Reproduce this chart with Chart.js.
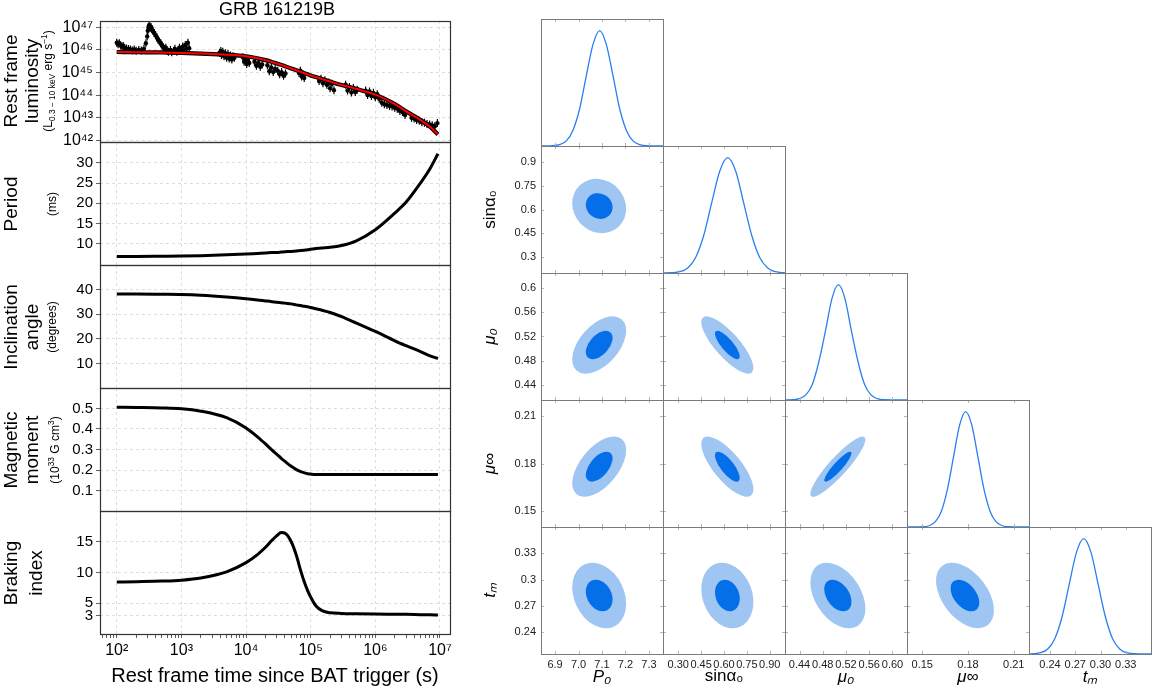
<!DOCTYPE html>
<html>
<head>
<meta charset="utf-8">
<script src="https://cdn.jsdelivr.net/npm/chart.js@4.4.1/dist/chart.umd.min.js"></script>
<style>
  body { margin: 0; background: #fff; width: 1153px; height: 688px; overflow: hidden; position: relative; font-family: "Liberation Sans", Arial, sans-serif; }
  canvas { position: absolute; }
  .lab { position: absolute; white-space: nowrap; color: #000; line-height: 1; transform: translate(-50%, -50%) rotate(-90deg); }
  .lab sub, .lab sup { font-size: 70%; }
</style>
</head>
<body>
<script>
// ---- left column: GRB 161219B light curve and derived magnetar quantities ----
const modelTime = [1e2, 2e2, 5e2, 1e3, 2e3, 5e3, 1e4, 1.5e4, 2e4, 2.5e4, 3e4, 3.5e4, 4e4, 5e4, 6e4, 7e4, 8e4, 9e4, 1e5, 1.2e5, 1.5e5, 2e5, 3e5, 5e5, 1e6, 2e6, 3e6, 5e6, 7e6, 9.3e6];
const lumModelLog = [45.91, 45.90, 45.89, 45.87, 45.84, 45.79, 45.72, 45.63, 45.55, 45.47, 45.40, 45.34, 45.28, 45.18, 45.10, 45.03, 44.97, 44.92, 44.87, 44.80, 44.71, 44.60, 44.45, 44.28, 44.02, 43.60, 43.28, 42.90, 42.60, 42.26];
const periodMs = [6.9, 6.9, 6.95, 7.0, 7.1, 7.3, 7.5, 7.65, 7.75, 7.85, 7.9, 7.98, 8.05, 8.15, 8.25, 8.35, 8.45, 8.55, 8.7, 8.85, 9.0, 9.15, 9.6, 10.7, 13.5, 17.6, 20.3, 25.0, 28.5, 32.2];
const inclinationDeg = [38.2, 38.2, 38.1, 38.0, 37.7, 37.0, 36.3, 35.8, 35.4, 35.1, 34.9, 34.7, 34.5, 34.2, 33.8, 33.5, 33.2, 33.0, 32.7, 32.2, 31.6, 30.7, 29.0, 26.5, 23.0, 19.2, 17.2, 14.8, 13.1, 12.0];
const magMoment = [0.506, 0.505, 0.503, 0.499, 0.487, 0.455, 0.405, 0.362, 0.327, 0.298, 0.276, 0.257, 0.242, 0.218, 0.202, 0.192, 0.186, 0.182, 0.180, 0.178, 0.178, 0.178, 0.178, 0.178, 0.178, 0.178, 0.178, 0.178, 0.178, 0.178];
const brakingIndex = [8.44, 8.5, 8.6, 8.75, 9.1, 10.1, 11.6, 12.9, 14.1, 15.2, 16.0, 16.5, 16.4, 15.0, 12.8, 10.3, 8.4, 7.0, 6.0, 4.6, 3.8, 3.45, 3.35, 3.3, 3.25, 3.22, 3.2, 3.15, 3.12, 3.1];

// observed XRT points, log10 of time (s) and luminosity (erg/s)
const obsLogTime = [2.00, 2.02, 2.04, 2.06, 2.08, 2.10, 2.12, 2.15, 2.18, 2.21, 2.24, 2.27, 2.30, 2.34, 2.38, 2.42, 2.45,
  2.47, 2.48, 2.49, 2.50, 2.51, 2.52, 2.53, 2.54, 2.56, 2.58, 2.60, 2.62, 2.64, 2.66, 2.68, 2.70, 2.72, 2.74, 2.76,
  2.78, 2.80, 2.83, 2.85, 2.88, 2.90, 2.93, 2.95, 2.97, 3.00, 3.02, 3.04, 3.06, 3.08, 3.10, 3.12,
  3.59, 3.61, 3.62, 3.64, 3.66, 3.68, 3.70, 3.72, 3.74, 3.76, 3.78, 3.80, 3.82,
  3.95, 3.97, 3.99, 4.01, 4.03, 4.05, 4.13, 4.16, 4.19, 4.22, 4.25,
  4.33, 4.36, 4.39, 4.42, 4.45, 4.49, 4.52, 4.55, 4.58, 4.61,
  4.82, 4.84, 4.86, 4.88, 4.90, 5.13, 5.16, 5.19, 5.22, 5.25, 5.28, 5.30, 5.33, 5.36,
  5.54, 5.57, 5.60, 5.63, 5.66, 5.69, 5.72, 5.85, 5.88, 5.91, 5.94, 5.97, 6.00, 6.03, 6.06,
  6.10, 6.14, 6.18, 6.22, 6.26, 6.30, 6.34, 6.38, 6.42, 6.46,
  6.56, 6.60, 6.64, 6.68, 6.72, 6.76, 6.80, 6.84, 6.88, 6.92, 6.96];
const obsLogLum = [46.32, 46.25, 46.30, 46.20, 46.15, 46.18, 46.10, 46.06, 46.04, 46.02, 45.98, 46.02, 45.97, 46.00, 45.98, 46.05, 46.30,
  46.60, 46.85, 47.00, 47.10, 47.05, 46.98, 47.02, 46.92, 46.85, 46.75, 46.65, 46.55, 46.45, 46.38, 46.30, 46.20, 46.12, 46.05, 46.10,
  45.95, 45.92, 46.00, 45.90, 45.96, 46.05, 45.92, 46.00, 46.10, 45.95, 46.15, 45.98, 46.22, 46.05, 46.32, 46.08,
  45.88, 45.95, 45.78, 45.92, 45.72, 45.86, 45.66, 45.82, 45.62, 45.76, 45.58, 45.72, 45.65,
  45.68, 45.48, 45.58, 45.38, 45.52, 45.42, 45.48, 45.30, 45.42, 45.26, 45.36,
  45.32, 45.06, 45.22, 45.02, 45.16, 45.08, 44.92, 45.02, 44.86, 44.96,
  44.98, 45.08, 44.82, 44.92, 44.76, 44.62, 44.72, 44.52, 44.66, 44.46, 44.56, 44.30, 44.50, 44.22,
  44.46, 44.20, 44.36, 44.12, 44.32, 44.14, 44.24, 44.20, 44.00, 44.16, 43.96, 44.10, 43.90, 44.04, 43.84,
  43.66, 43.60, 43.56, 43.52, 43.50, 43.44, 43.40, 43.30, 43.25, 43.12,
  43.00, 42.96, 42.90, 42.86, 42.80, 42.78, 42.72, 42.70, 42.66, 42.62, 42.76];

const majorTime = [1e2, 1e3, 1e4, 1e5, 1e6, 1e7];
const majorTimeLabels = ['10²', '10³', '10⁴', '10⁵', '10⁶', '10⁷'];
const lumTicks = [1e42, 1e43, 1e44, 1e45, 1e46, 1e47];
const lumTickLabels = ['10⁴²', '10⁴³', '10⁴⁴', '10⁴⁵', '10⁴⁶', '10⁴⁷'];
const periodTicks = [10, 15, 20, 25, 30];
const inclTicks = [10, 20, 30, 40];
const magTicks = [0.1, 0.2, 0.3, 0.4, 0.5];
const brakeTicks = [3, 5, 10, 15];

// ---- right block: corner plot of the posterior ----
const paramNames = ['P₀', 'sinα₀', 'μ₀', 'μ∞', 'tₘ'];
const paramItalic = [true, false, true, true, true];
const paramMin = [6.84, 0.2, 0.415, 0.14, 0.215];
const paramMax = [7.36, 1.0, 0.625, 0.22, 0.36];
const paramTicks = [[6.9, 7.0, 7.1, 7.2, 7.3], [0.3, 0.45, 0.6, 0.75, 0.9], [0.44, 0.48, 0.52, 0.56, 0.6], [0.15, 0.18, 0.21], [0.24, 0.27, 0.3, 0.33]];
const xTickLabels = [['6.9', '7.0', '7.1', '7.2', '7.3'], ['0.30', '0.45', '0.60', '0.75', '0.90'], ['0.44', '0.48', '0.52', '0.56', '0.60'], ['0.15', '0.18', '0.21'], ['0.24', '0.27', '0.30', '0.33']];
const yTickLabels = [[], ['0.3', '0.45', '0.6', '0.75', '0.9'], ['0.44', '0.48', '0.52', '0.56', '0.6'], ['0.15', '0.18', '0.21'], ['0.24', '0.27', '0.3', '0.33']];

// 1D marginals (relative density)
const p0Grid = [6.84, 6.89, 6.919, 6.948, 6.976, 7.005, 7.033, 7.062, 7.09, 7.118, 7.147, 7.175, 7.204, 7.232, 7.261, 7.29, 7.36];
const sinGrid = [0.2, 0.257, 0.309, 0.362, 0.414, 0.467, 0.519, 0.572, 0.624, 0.677, 0.729, 0.782, 0.834, 0.887, 0.939, 0.992, 1.0];
const mu0Grid = [0.415, 0.429, 0.44, 0.451, 0.462, 0.473, 0.485, 0.496, 0.507, 0.518, 0.529, 0.541, 0.552, 0.563, 0.574, 0.585, 0.625];
const muInfGrid = [0.14, 0.1505, 0.1545, 0.1585, 0.1625, 0.1665, 0.1705, 0.1745, 0.1785, 0.1825, 0.1865, 0.1905, 0.1945, 0.1985, 0.2025, 0.2065, 0.22];
const tmGrid = [0.215, 0.2201, 0.2287, 0.2373, 0.2458, 0.2544, 0.2629, 0.2715, 0.28, 0.2886, 0.2971, 0.3057, 0.3142, 0.3228, 0.3313, 0.3399, 0.36];
const p0Dens = [0, 0.002, 0.011, 0.044, 0.135, 0.325, 0.607, 0.882, 1, 0.882, 0.607, 0.325, 0.135, 0.044, 0.011, 0.002, 0];
const sinDens = [0, 0.002, 0.011, 0.044, 0.135, 0.325, 0.607, 0.882, 1, 0.882, 0.607, 0.325, 0.135, 0.044, 0.011, 0.002, 0.001];
const mu0Dens = [0, 0.002, 0.011, 0.044, 0.135, 0.325, 0.607, 0.882, 1, 0.882, 0.607, 0.325, 0.135, 0.044, 0.011, 0.002, 0];
const muInfDens = [0, 0.002, 0.011, 0.044, 0.135, 0.325, 0.607, 0.882, 1, 0.882, 0.607, 0.325, 0.135, 0.044, 0.011, 0.002, 0];
const tmDens = [0, 0.002, 0.011, 0.044, 0.135, 0.325, 0.607, 0.882, 1, 0.882, 0.607, 0.325, 0.135, 0.044, 0.011, 0.002, 0];
const margGrid = [p0Grid, sinGrid, mu0Grid, muInfGrid, tmGrid];
const margDens = [p0Dens, sinDens, mu0Dens, muInfDens, tmDens];

// 2D contours: centre, half extents of the inner / outer region, and correlation per pair
const postMean = [7.088, 0.622, 0.506, 0.178, 0.2818];
const innerExt = [0.057, 0.081, 0.0234, 0.0094, 0.018];
const outerExt = [0.115, 0.171, 0.0474, 0.019, 0.0375];
const corrRows = [[], [-0.1], [0.5, -0.8], [0.55, -0.75, 0.9], [-0.25, -0.2, -0.4, -0.45]];

// ---------------------------------------------------------------
Chart.defaults.font.family = '"Liberation Sans", Arial, sans-serif';
Chart.defaults.color = '#000';

function makeCanvas(left, top, w, h) {
    const c = document.createElement('canvas');
    c.width = w; c.height = h;
    c.style.left = left + 'px'; c.style.top = top + 'px';
    document.body.appendChild(c);
    return c.getContext('2d');
}

function addLabel(html, x, y, size, rotate) {
    const d = document.createElement('div');
    d.className = 'lab';
    d.innerHTML = html;
    d.style.left = x + 'px';
    d.style.top = y + 'px';
    d.style.fontSize = size + 'px';
    if (!rotate) d.style.transform = 'translate(-50%, -50%)';
    document.body.appendChild(d);
}

const timeTicks = [];
for (let e = 1; e <= 7; e++) {
    for (let m = 1; m <= 9; m++) {
        const v = m * Math.pow(10, e);
        if (v >= 55 && v <= 1.43e7) timeTicks.push(v);
    }
}

const panelFrame = {
    id: 'panelFrame',
    afterDraw(chart) {
        const a = chart.chartArea, ctx = chart.ctx;
        ctx.save();
        ctx.strokeStyle = '#333';
        ctx.lineWidth = 1.2;
        ctx.strokeRect(Math.round(a.left) + 0.5, Math.round(a.top) + 0.5, Math.round(a.width), Math.round(a.height));
        ctx.restore();
    }
};

function timeAxis(isBottom) {
    return {
        type: 'logarithmic', min: 55, max: 1.43e7,
        afterBuildTicks: s => { s.ticks = timeTicks.map(v => ({ value: v })); },
        afterFit: s => { s.height = isBottom ? 54 : 0; },
        grid: {
            color: c => (c.tick && majorTime.includes(c.tick.value)) ? '#d6d6d6' : 'rgba(0,0,0,0)',
            lineWidth: 0.8, drawTicks: isBottom, tickLength: 4, tickColor: '#333'
        },
        border: { display: false, dash: [3, 3] },
        ticks: {
            display: isBottom, autoSkip: false, maxRotation: 0, padding: 3, color: '#000', font: { size: 16 },
            callback: v => { const k = majorTime.indexOf(v); return k < 0 ? '' : majorTimeLabels[k]; }
        },
        title: { display: isBottom, text: 'Rest frame time since BAT trigger (s)', color: '#000', font: { size: 20 }, padding: { top: 0, bottom: 0 } }
    };
}

function valueAxis(type, min, max, ticks, labels) {
    return {
        type: type, min: min, max: max,
        afterBuildTicks: s => { s.ticks = ticks.map(v => ({ value: v })); },
        afterFit: s => { s.width = 100; },
        grid: { color: '#d6d6d6', lineWidth: 0.8, drawTicks: true, tickLength: 4, tickColor: '#333' },
        border: { display: false, dash: [3, 3] },
        ticks: { padding: 3, color: '#000', font: { size: labels ? 16 : 15 }, autoSkip: false, callback: (v, i) => labels ? labels[i] : String(v) }
    };
}

function curve(values, color, width) {
    return {
        data: modelTime.map((t, i) => ({ x: t, y: values[i] })),
        borderColor: color, backgroundColor: color, borderWidth: width, pointRadius: 0,
        cubicInterpolationMode: 'monotone', fill: false
    };
}

const panelTop = [20, 142, 265, 388, 511];
const panelBottom = [142, 265, 388, 511, 634];

const lumModel = lumModelLog.map(v => Math.pow(10, v));
const obsPoints = obsLogTime.map((t, i) => ({ x: Math.pow(10, t), y: Math.pow(10, obsLogLum[i]) }));
const panels = [
    {
        y: valueAxis('logarithmic', 8.9e41, 2.0e47, lumTicks, lumTickLabels),
        datasets: [
            curve(lumModel, '#ff0000', 2),
            curve(lumModel, '#000000', 4.2),
            { data: obsPoints, showLine: false, pointRadius: 2.2, pointBackgroundColor: '#000', pointBorderWidth: 0 },
            { data: obsPoints, showLine: false, pointStyle: 'line', rotation: 90, pointRadius: 4, pointBorderColor: '#000', pointBorderWidth: 1.2 }
        ]
    },
    { y: valueAxis('linear', 4.8, 35.1, periodTicks), datasets: [curve(periodMs, '#000000', 3)] },
    { y: valueAxis('linear', 0, 50, inclTicks), datasets: [curve(inclinationDeg, '#000000', 3)] },
    { y: valueAxis('linear', 0, 0.6, magTicks), datasets: [curve(magMoment, '#000000', 3)] },
    { y: valueAxis('linear', 0, 20, brakeTicks), datasets: [curve(brakingIndex, '#000000', 3)] }
];

panels.forEach(function (p, i) {
    const isBottom = i === panels.length - 1;
    const pad = 12;
    const h = panelBottom[i] - panelTop[i];
    const ctx = makeCanvas(0, panelTop[i] - pad, 470, isBottom ? pad + h + 54 : h + 2 * pad);
    new Chart(ctx, {
        type: 'line',
        data: { datasets: p.datasets },
        options: {
            responsive: false, animation: false,
            layout: { padding: { top: pad, bottom: isBottom ? 0 : pad, left: 0, right: 20 } },
            plugins: { legend: { display: false }, tooltip: { enabled: false } },
            scales: { x: timeAxis(isBottom), y: p.y }
        },
        plugins: [panelFrame]
    });
});

addLabel('GRB 161219B', 277, 9, 18, false);
const yLabels = [
    [['Rest frame', 10, 19], ['luminosity', 31, 19], ['(L<sub>0.3 − 10 keV</sub> erg s<sup>−1</sup>)', 48, 12]],
    [['Period', 10, 19], ['(ms)', 52, 12]],
    [['Inclination', 10, 19], ['angle', 31, 19], ['(degrees)', 52, 12]],
    [['Magnetic', 10, 19], ['moment', 31, 19], ['(10<sup>33</sup> G cm<sup>3</sup>)', 54, 12]],
    [['Braking', 10, 19], ['index', 35, 19]]
];
yLabels.forEach(function (lines, i) {
    const yc = (panelTop[i] + panelBottom[i]) / 2;
    lines.forEach(l => addLabel(l[0], l[1], yc, l[2], true));
});

// ---------------------------------------------------------------
const colLeft = [541, 663, 785, 907, 1029];
const rowTop = [19, 146, 273, 400, 527];
const cellW = 122, cellH = 127, PAD = 12;

function cellFrame(r, c) {
    return {
        id: 'cellFrame',
        afterDraw(chart) {
            const a = chart.chartArea, ctx = chart.ctx;
            const { x, y } = chart.scales;
            ctx.save();
            ctx.strokeStyle = '#b5b5b5';
            ctx.lineWidth = 1;
            ctx.beginPath();
            paramTicks[c].forEach(v => {
                const px = Math.round(x.getPixelForValue(v)) + 0.5;
                ctx.moveTo(px, a.top); ctx.lineTo(px, a.top + 3);
                ctx.moveTo(px, a.bottom); ctx.lineTo(px, a.bottom - 3);
            });
            if (r !== c) {
                paramTicks[r].forEach(v => {
                    const py = Math.round(y.getPixelForValue(v)) + 0.5;
                    ctx.moveTo(a.left, py); ctx.lineTo(a.left + 3, py);
                    ctx.moveTo(a.right, py); ctx.lineTo(a.right - 3, py);
                });
            }
            ctx.stroke();
            ctx.strokeStyle = '#7a7a7a';
            ctx.strokeRect(Math.round(a.left) + 0.5, Math.round(a.top) + 0.5, Math.round(a.width), Math.round(a.height));
            ctx.restore();
        }
    };
}

function contourPlugin(r, c) {
    return {
        id: 'contours',
        beforeDatasetsDraw(chart) {
            const { ctx, chartArea, scales: { x, y } } = chart;
            const rho = corrRows[r][c];
            ctx.save();
            ctx.beginPath();
            ctx.rect(chartArea.left, chartArea.top, chartArea.width, chartArea.height);
            ctx.clip();
            [[outerExt, '#9fc5f3'], [innerExt, '#056ee9']].forEach(function (lvl) {
                const ext = lvl[0];
                const cx = x.getPixelForValue(postMean[c]);
                const cy = y.getPixelForValue(postMean[r]);
                const a = Math.abs(x.getPixelForValue(postMean[c] + ext[c]) - cx);
                const b = Math.abs(y.getPixelForValue(postMean[r] + ext[r]) - cy);
                const cov = -rho * a * b;
                const half = (a * a + b * b) / 2;
                const d = Math.sqrt(Math.pow((a * a - b * b) / 2, 2) + cov * cov);
                const ang = 0.5 * Math.atan2(2 * cov, a * a - b * b);
                ctx.beginPath();
                ctx.ellipse(cx, cy, Math.sqrt(half + d), Math.sqrt(Math.max(half - d, 0)), ang, 0, 2 * Math.PI);
                ctx.fillStyle = lvl[1];
                ctx.fill();
            });
            ctx.restore();
        }
    };
}

function cornerX(c, show) {
    return {
        type: 'linear', min: paramMin[c], max: paramMax[c], display: show,
        afterBuildTicks: s => { s.ticks = paramTicks[c].map(v => ({ value: v })); },
        afterFit: s => { s.height = show ? 34 : 0; },
        grid: { display: false, drawTicks: false },
        border: { display: false },
        ticks: { padding: 4, color: '#222', font: { size: 11 }, autoSkip: false, maxRotation: 0, callback: (v, i) => xTickLabels[c][i] },
        title: { display: true, text: paramNames[c], color: '#000', font: { size: 17, style: paramItalic[c] ? 'italic' : 'normal' }, padding: { top: 0, bottom: 1 } }
    };
}

function cornerY(r, show, diag) {
    if (diag) return { type: 'linear', min: 0, max: 1.1, display: false };
    return {
        type: 'linear', min: paramMin[r], max: paramMax[r], display: show,
        afterBuildTicks: s => { s.ticks = paramTicks[r].map(v => ({ value: v })); },
        afterFit: s => { s.width = show ? 71 : 0; },
        grid: { display: false, drawTicks: false },
        border: { display: false },
        ticks: { padding: 5, color: '#222', font: { size: 11 }, autoSkip: false, callback: (v, i) => yTickLabels[r][i] },
        title: { display: true, text: paramNames[r], color: '#000', font: { size: 17, style: paramItalic[r] ? 'italic' : 'normal' }, padding: { top: 10, bottom: 0 } }
    };
}

for (let r = 0; r < 5; r++) {
    for (let c = 0; c <= r; c++) {
        const diag = r === c;
        const showY = c === 0 && !diag;
        const showX = r === 4;
        const extraL = showY ? 71 : 0;
        const extraB = showX ? 34 : 0;
        const ctx = makeCanvas(colLeft[c] - extraL - PAD, rowTop[r] - PAD, cellW + extraL + 2 * PAD, cellH + extraB + 2 * PAD);
        const datasets = diag ? [{
            data: margGrid[c].map((v, i) => ({ x: v, y: margDens[c][i] })),
            borderColor: '#2a7ff0', borderWidth: 1.3, pointRadius: 0,
            cubicInterpolationMode: 'monotone', fill: false
        }] : [];
        new Chart(ctx, {
            type: 'line',
            data: { datasets: datasets },
            options: {
                responsive: false, animation: false,
                layout: { padding: PAD },
                plugins: { legend: { display: false }, tooltip: { enabled: false } },
                scales: { x: cornerX(c, showX), y: cornerY(r, showY, diag) }
            },
            plugins: diag ? [cellFrame(r, c)] : [contourPlugin(r, c), cellFrame(r, c)]
        });
    }
}
</script>
</body>
</html>
